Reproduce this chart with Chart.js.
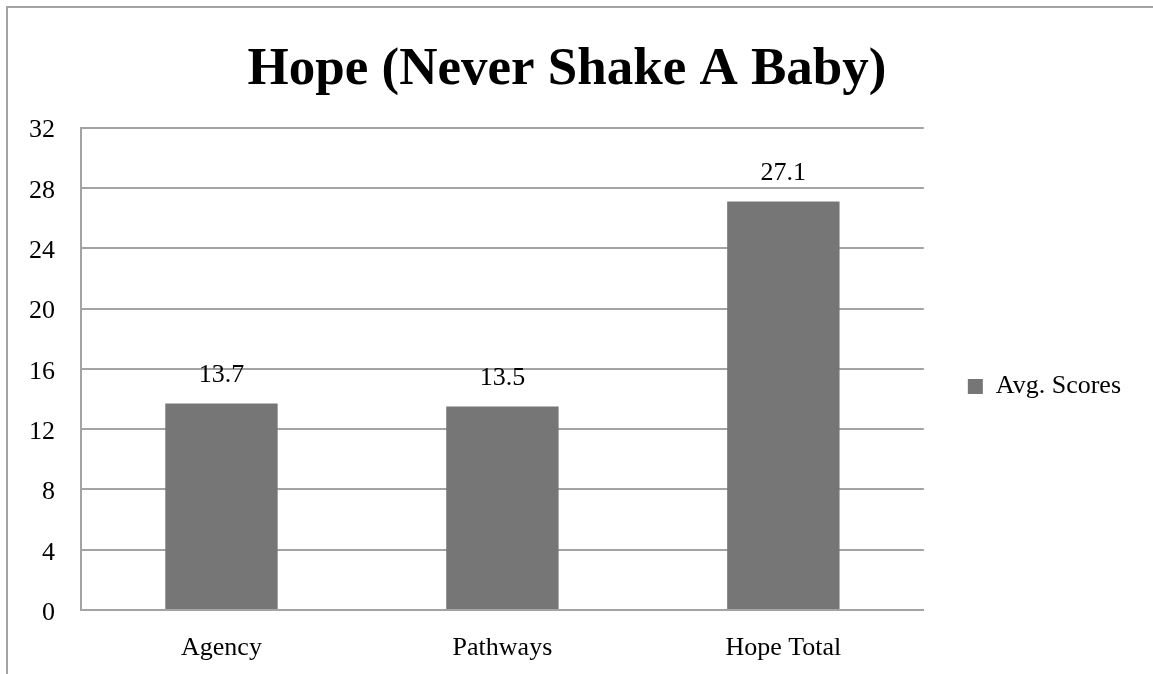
<!DOCTYPE html>
<html>
<head>
<meta charset="utf-8">
<script src="https://cdn.jsdelivr.net/npm/chart.js@4.4.0/dist/chart.umd.min.js"></script>
<style>
  html, body { margin: 0; padding: 0; background: #fff; overflow: hidden; }
  #frame {
    position: absolute; left: 6px; top: 6px; width: 1300px; height: 800px;
    border-left: 2px solid #a3a3a3; border-top: 2px solid #a3a3a3;
  }
  #wrap { position: absolute; left: 0; top: 0; width: 1153px; height: 674px; }
</style>
</head>
<body>
<div id="frame"></div>
<div id="wrap"><canvas id="hopeChart"></canvas></div>
<script>
//Chart data
const categories = ['Agency', 'Pathways', 'Hope Total'];
const avgScores = [13.7, 13.5, 27.1];
const seriesName = 'Avg. Scores';
const yTicks = [0, 4, 8, 12, 16, 20, 24, 28, 32];

const barColor = '#767676';
const gridColor = '#a3a3a3';
const serif = "'Liberation Serif', 'Times New Roman', serif";

//value labels above each bar
const valueLabels = {
  id: 'valueLabels',
  afterDatasetsDraw(chart) {
    const ctx = chart.ctx;
    const meta = chart.getDatasetMeta(0);
    ctx.save();
    ctx.font = `26px ${serif}`;
    ctx.fillStyle = '#000';
    ctx.textAlign = 'center';
    ctx.textBaseline = 'middle';
    meta.data.forEach((bar, i) => {
      ctx.fillText(String(avgScores[i]), bar.x, bar.y - 28);
    });
    ctx.restore();
  },
};

Chart.defaults.font.family = serif;
Chart.defaults.color = '#000';

new Chart('hopeChart', {
  type: 'bar',
  data: {
    labels: categories,
    datasets: [
      {
        label: seriesName,
        data: avgScores,
        backgroundColor: barColor,
        borderWidth: 0,
        categoryPercentage: 1,
        barPercentage: 0.4,
      },
    ],
  },
  options: {
    responsive: true,
    maintainAspectRatio: false,
    animation: false,
    layout: { padding: { left: 3, right: 22, top: 39, bottom: 14 } },
    plugins: {
      title: {
        display: true,
        text: 'Hope (Never Shake A Baby)',
        font: { size: 53, weight: 'bold' },
        color: '#000',
        padding: { top: 0, bottom: 25 },
      },
      legend: {
        position: 'right',
        //empty legend title only pushes the item down to sit by the plot middle
        title: {
          display: true,
          text: ' ',
          font: { size: 10 },
          padding: { top: 0, bottom: 62 },
        },
        labels: {
          boxWidth: 15,
          boxHeight: 15,
          padding: 44,
          font: { size: 26 },
          color: '#000',
        },
      },
      tooltip: { enabled: false },
    },
    scales: {
      x: {
        afterFit: (axis) => {
          axis.height = 50;
        },
        grid: { display: false, drawTicks: false },
        border: { display: true, color: gridColor, width: 2 },
        ticks: { padding: 23, font: { size: 26 } },
      },
      y: {
        min: 0,
        max: 32,
        afterBuildTicks: (axis) => {
          axis.ticks = yTicks.map((v) => ({ value: v }));
        },
        grid: { color: gridColor, lineWidth: 2, drawTicks: false },
        border: { display: true, color: gridColor, width: 2 },
        ticks: { padding: 26, labelOffset: 3, font: { size: 26 } },
      },
    },
  },
  plugins: [valueLabels],
});
</script>
</body>
</html>
